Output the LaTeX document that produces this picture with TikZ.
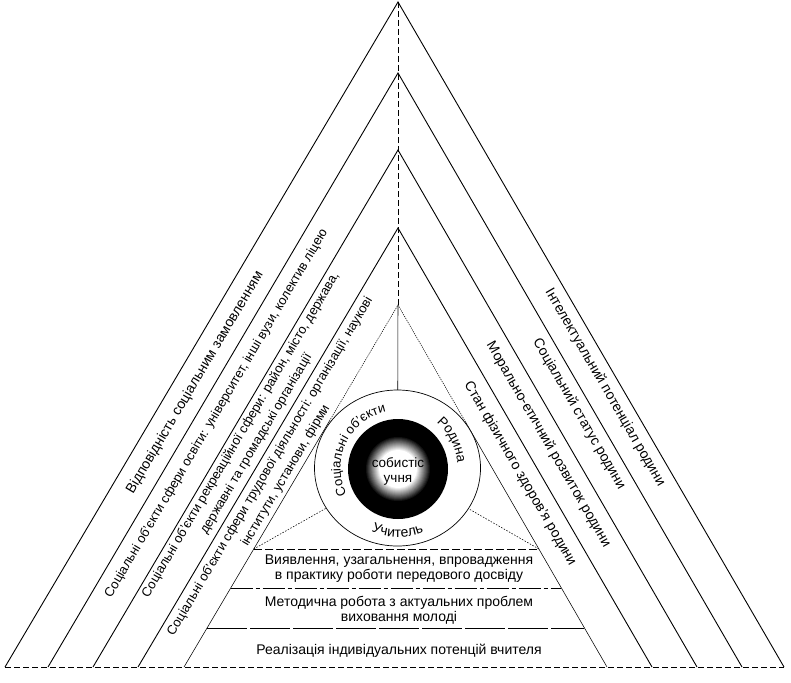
\documentclass[tikz,border=0pt]{standalone}
\usepackage{fontspec}
\setmainfont{Liberation Sans}
\usetikzlibrary{calc,decorations.text}
\tikzset{
  tri/.style={line width=0.9pt},
  tri5/.style={line width=0.55pt},
  tri5dot/.style={line width=0.55pt, dash pattern=on 1.2pt off 1pt},
  divider/.style={line width=0.55pt, dash pattern=on 1.5pt off 1.5pt},
  axisdash/.style={line width=0.7pt, dash pattern=on 6pt off 3pt},
  lvlA/.style={line width=0.7pt, dash pattern=on 8pt off 3pt},
  lvlB/.style={line width=0.7pt, dash pattern=on 22pt off 3pt on 4pt off 3pt},
  lvlC/.style={line width=0.7pt, dash pattern=on 40pt off 3pt},
  basedash/.style={line width=0.9pt, dash pattern=on 6pt off 3pt},
  bandtext/.style={font=\fontsize{14}{16}\selectfont, inner sep=0pt},
  bandsmall/.style={font=\fontsize{13}{18}\selectfont, inner sep=0pt, align=center},
  lvltext/.style={font=\fontsize{14}{15}\selectfont, align=center, inner sep=0pt},
}
\begin{document}
\begin{tikzpicture}[x=1pt,y=-1pt]
\useasboundingbox (0,0) rectangle (791,682);
\fill[white] (0,0) rectangle (791,682);
% nested triangles
\coordinate (A1) at (398,2);   \coordinate (L1) at (5,667);   \coordinate (R1) at (784,667);
\coordinate (A2) at (398,73);  \coordinate (L2) at (48,667);  \coordinate (R2) at (742,667);
\coordinate (A3) at (398,150); \coordinate (L3) at (93,667);  \coordinate (R3) at (697,667);
\coordinate (A4) at (398,228); \coordinate (L4) at (138,667); \coordinate (R4) at (652,667);
\coordinate (A5) at (398,305); \coordinate (L5) at (184,667); \coordinate (R5) at (607,667);
\coordinate (C) at (397.5,468);
\coordinate (D) at (398,469);
\draw[tri] (L1) -- (A1) -- (R1);
\draw[tri] (L2) -- (A2) -- (R2);
\draw[tri] (L3) -- (A3) -- (R3);
\draw[tri] (L4) -- (A4) -- (R4);
% innermost triangle
\coordinate (T5L) at ($(A5)!0.32!(L5)$);
\coordinate (T5R) at ($(A5)!0.32!(R5)$);
\draw[tri5dot] (T5L) -- (A5) -- (T5R);
\draw[tri5] (T5L) -- (L5);
\draw[tri5] (T5R) -- (R5);
% axis
\draw[axisdash] (A1) -- (A5);
\draw[tri5] (A5) -- (C);
% level lines
\coordinate (P1L) at ($(A5)!0.674!(L5)$); \coordinate (P1R) at ($(A5)!0.674!(R5)$);
\coordinate (P2L) at ($(A5)!0.782!(L5)$); \coordinate (P2R) at ($(A5)!0.782!(R5)$);
\coordinate (P3L) at ($(A5)!0.892!(L5)$); \coordinate (P3R) at ($(A5)!0.892!(R5)$);
\draw[divider] (P1L) -- (C);
\draw[divider] (P1R) -- (C);
\draw[lvlA] (P1L) -- (P1R);
\draw[lvlB] (P2L) -- (P2R);
\draw[lvlC] (P3L) -- (P3R);
\draw[basedash] (L1) -- (R1);
% central circle
\filldraw[fill=white, line width=0.7pt] (C) ellipse[x radius=83, y radius=78];
\fill[black] (D) circle[radius=50];
\foreach \r in {33,32,...,20}{
  \pgfmathsetmacro\p{(\r-19)*100/14}
  \fill[black!\p] (D) circle[radius=\r];
}
\fill[white] (D) circle[radius=19];
\node[font=\fontsize{13.5}{15}\selectfont, align=center, inner sep=0pt] (core) at (398,471) {собистіс\\учня};
\begin{scope}[shift={(C)}, x=1pt, y=1pt]
  \path[decorate, decoration={text along path, text align=center,
     text={|\fontsize{13}{13}\selectfont|Соціальні об’єкти}}]
     (215:57) arc[start angle=215, end angle=94, radius=57];
  \path[decorate, decoration={text along path, text align=center,
     text={|\fontsize{13.5}{13.5}\selectfont|Родина}}]
     (60:60) arc[start angle=60, end angle=-6, radius=60];
  \path[decorate, decoration={text along path, text align=center,
     text={|\fontsize{14}{14}\selectfont|Учитель}}]
     (235:69) arc[start angle=235, end angle=305, radius=69];
\end{scope}
% left bands
\node[bandtext, rotate=59.4] (lb1) at (195,382.5) {Відповідність соціальним замовленням};
\node[bandsmall, rotate=59.4] (lb2) at (216.5,413.5) {Соціальні об’єкти сфери освіти: університет, інші вузи, колектив ліцею};
\node[bandsmall, rotate=59.4] (lb3) at (248.5,439.5) {Соціальні об’єкти рекреаційної сфери: район, місто, держава,\\державні та громадські організації};
\node[bandsmall, rotate=59.4] (lb4) at (278,471) {Соціальні об’єкти сфери трудової діяльності: організації, наукові\\інститути, установи, фірми};
% right bands
\node[bandtext, rotate=-59.9] (rb1) at (605,387.5) {Інтелектуальний потенціал родини};
\node[bandtext, rotate=-59.9] (rb2) at (579,414) {Соціальний статус родини};
\node[bandtext, rotate=-59.9] (rb3) at (548.5,444.5) {Морально-етичний розвиток родини};
\node[bandtext, rotate=-59.9] (rb4) at (520,473.5) {Стан фізичного здоров’я родини};
% levels
\node[lvltext] (lv1) at (399,568.5) {Виявлення, узагальнення, впровадження\\в практику роботи передового досвіду};
\node[lvltext] (lv2) at (399,610) {Методична робота з актуальних проблем\\виховання молоді};
\node[lvltext] (lv3) at (399,650.5) {Реалізація індивідуальних потенцій вчителя};
\end{tikzpicture}
\end{document}
